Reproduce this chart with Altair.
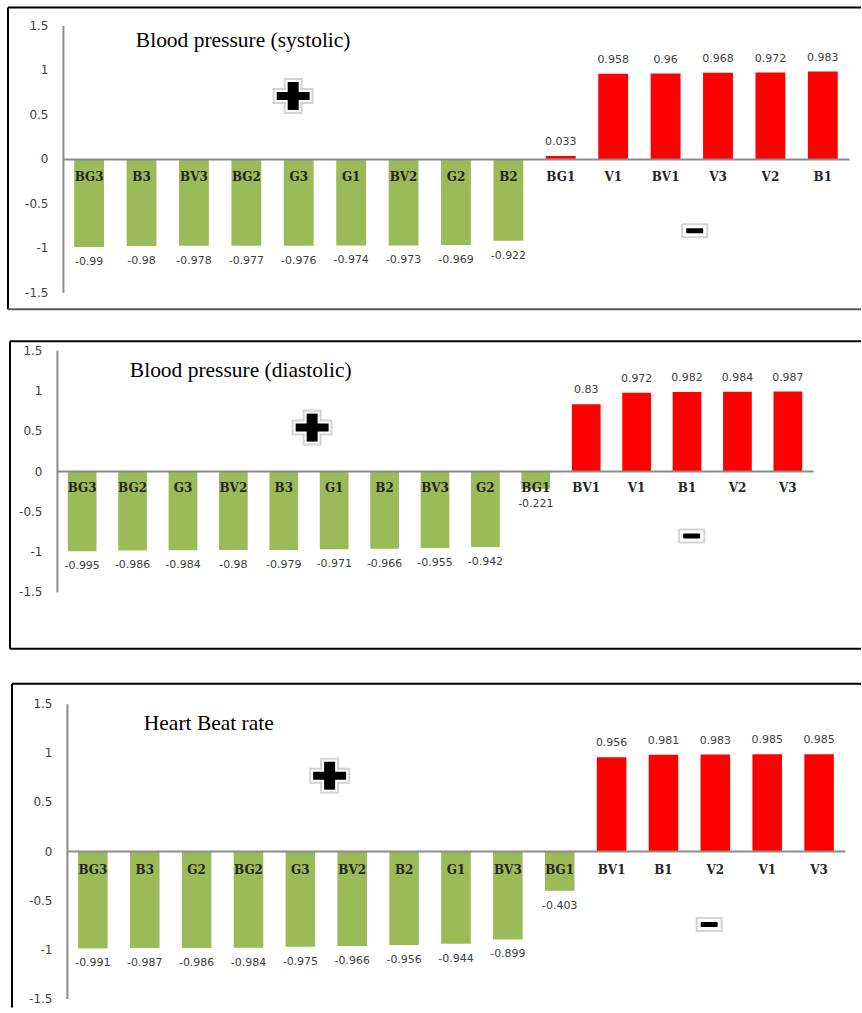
import altair as alt
import pandas as pd

GREEN = "#9BBB59"
RED = "#FF0000"
AXIS_GREY = "#8c8c8c"
TEXT_GREY = "#404040"

# Correlation coefficients per parameter, in the order they are plotted
sys_cats = ["BG3", "B3", "BV3", "BG2", "G3", "G1", "BV2", "G2", "B2",
            "BG1", "V1", "BV1", "V3", "V2", "B1"]
sys_vals = [-0.99, -0.98, -0.978, -0.977, -0.976, -0.974, -0.973, -0.969, -0.922,
            0.033, 0.958, 0.96, 0.968, 0.972, 0.983]

dia_cats = ["BG3", "BG2", "G3", "BV2", "B3", "G1", "B2", "BV3", "G2",
            "BG1", "BV1", "V1", "B1", "V2", "V3"]
dia_vals = [-0.995, -0.986, -0.984, -0.98, -0.979, -0.971, -0.966, -0.955, -0.942,
            -0.221, 0.83, 0.972, 0.982, 0.984, 0.987]

hbr_cats = ["BG3", "B3", "G2", "BG2", "G3", "BV2", "B2", "G1", "BV3",
            "BG1", "BV1", "B1", "V2", "V1", "V3"]
hbr_vals = [-0.991, -0.987, -0.986, -0.984, -0.975, -0.966, -0.956, -0.944, -0.899,
            -0.403, 0.956, 0.981, 0.983, 0.985, 0.985]

y_ticks = [-1.5, -1, -0.5, 0, 0.5, 1, 1.5]

PAGE_W = 862


def one_row():
    return pd.DataFrame({"k": [0]})


def rect(x0, x1, y0, y1, **style):
    return alt.Chart(one_row()).mark_rect(**style).encode(
        x=alt.value(x0), x2=alt.value(x1), y=alt.value(y0), y2=alt.value(y1))


def rule(x0, x1, y0, y1, color="black", width=2):
    return alt.Chart(one_row()).mark_rule(color=color, strokeWidth=width).encode(
        x=alt.value(x0), x2=alt.value(x1), y=alt.value(y0), y2=alt.value(y1))


def plus_sign(cx, cy):
    layers = []
    for grow, fill, op in [(4, "#c8c8c8", 0.8), (2, "white", 1.0), (0, "black", 1.0)]:
        layers.append(rect(cx - 16.5 - grow, cx + 16.5 + grow, cy - 4 - grow, cy + 4 + grow,
                           color=fill, opacity=op))
        layers.append(rect(cx - 5.5 - grow, cx + 5.5 + grow, cy - 14 - grow, cy + 14 + grow,
                           color=fill, opacity=op))
    return layers


def minus_sign(cx, cy):
    layers = []
    for grow, fill, op in [(5, "#c8c8c8", 0.8), (3, "white", 1.0), (0, "black", 1.0)]:
        layers.append(rect(cx - 8.5 - grow, cx + 8.5 + grow, cy - 2.5 - grow, cy + 2.5 + grow,
                           color=fill, opacity=op, cornerRadius=1))
    return layers


def panel(title, cats, vals, top, height, g):
    # g holds page coordinates; shift them into this panel's frame
    def Y(v):
        return v - top

    df = pd.DataFrame({"cat": cats, "v": vals, "label": [str(v) for v in vals]})
    y_bottom, y_top = Y(g["y_lo"]), Y(g["y_hi"])
    zero_px = (y_bottom + y_top) / 2

    x_enc = alt.X(
        "cat:N", sort=cats,
        scale=alt.Scale(domain=cats, range=[g["x0"], g["x1"]],
                        paddingInner=0.43, paddingOuter=0.215),
        axis=alt.Axis(title=None, orient="bottom", offset=-(height - zero_px),
                      domainColor=AXIS_GREY, domainWidth=2, ticks=False, tickSize=0,
                      grid=False, labelAngle=0, labelFont="DejaVu Serif",
                      labelFontWeight="bold", labelFontSize=12, labelColor="#262626",
                      labelBaseline="middle", labelPadding=g["cat_dy"], zindex=1),
    )
    y_enc = alt.Y(
        "v:Q",
        scale=alt.Scale(domain=[-1.5, 1.5], range=[y_bottom, y_top], nice=False),
        axis=alt.Axis(title=None, values=y_ticks, labelExpr="'' + datum.value",
                      offset=-g["ax"], domainColor=AXIS_GREY, domainWidth=2,
                      ticks=False, tickSize=0, grid=False, labelPadding=15,
                      labelFont="DejaVu Sans", labelFontSize=12, labelColor=TEXT_GREY),
    )

    base = alt.Chart(df)
    bars = base.mark_bar().encode(
        x=x_enc, y=y_enc,
        color=alt.condition("datum.v > 0", alt.value(RED), alt.value(GREEN)),
    )
    lab_style = dict(font="DejaVu Sans", fontSize=11, color=TEXT_GREY)
    pos_lab = base.transform_filter("datum.v > 0").mark_text(dy=-14, **lab_style).encode(
        x=x_enc, y=y_enc, text="label:N")
    neg_lab = base.transform_filter("datum.v <= 0").mark_text(dy=15, **lab_style).encode(
        x=x_enc, y=y_enc, text="label:N")

    heading = alt.Chart(one_row()).mark_text(
        text=title, font="Liberation Serif", fontSize=21.5, align="left",
        baseline="alphabetic", color="black",
    ).encode(x=alt.value(g["tx"]), y=alt.value(Y(g["ty"])))

    # frame around the panel
    frame = [
        rule(g["bx"], PAGE_W, Y(g["btop"]), Y(g["btop"])),
        rule(g["bx"], g["bx"], Y(g["btop"]), Y(g["bbot"])),
    ]
    if g.get("bottom_line"):
        frame.append(rule(g["bx"], PAGE_W, Y(g["bbot"]), Y(g["bbot"]),
                          color=g["bottom_line"]))

    signs = plus_sign(g["plus"][0], Y(g["plus"][1])) + minus_sign(g["minus"][0], Y(g["minus"][1]))

    return alt.layer(*frame, bars, pos_lab, neg_lab, heading, *signs).properties(
        width=PAGE_W, height=height)


p1 = panel("Blood pressure (systolic)", sys_cats, sys_vals, 0, 337, dict(
    y_lo=292, y_hi=25, x0=63, x1=850, ax=63, cat_dy=17.5, tx=136, ty=46,
    bx=8, btop=7, bbot=309, bottom_line="#595959",
    plus=(293.5, 95.5), minus=(695.5, 230.5)))

p2 = panel("Blood pressure (diastolic)", dia_cats, dia_vals, 337, 343, dict(
    y_lo=592, y_hi=350, x0=57, x1=814, ax=57, cat_dy=16, tx=130, ty=377,
    bx=10, btop=341, bbot=649, bottom_line="black",
    plus=(312.5, 427.5), minus=(692.5, 536)))

p3 = panel("Heart Beat rate", hbr_cats, hbr_vals, 680, 328, dict(
    y_lo=999, y_hi=704, x0=67, x1=846, ax=67, cat_dy=18.5, tx=144, ty=730,
    bx=12, btop=684, bbot=1008,
    plus=(330, 776), minus=(710, 925)))

chart = alt.vconcat(p1, p2, p3, spacing=0).properties(padding=0).configure_view(
    stroke=None)

chart.save("out.html", embed_options={"renderer": "svg", "actions": False})
